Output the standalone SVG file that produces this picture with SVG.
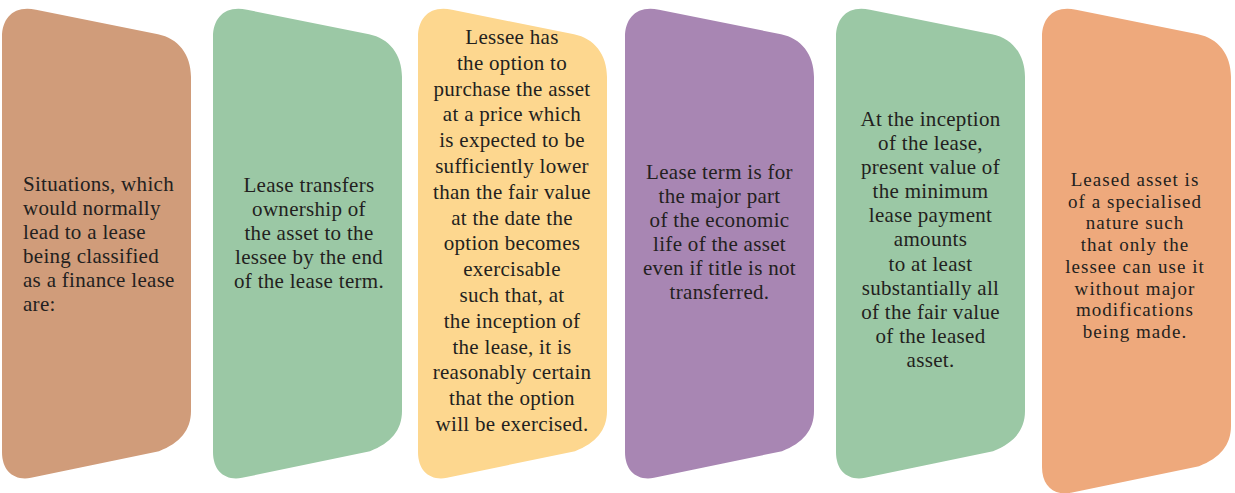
<svg xmlns="http://www.w3.org/2000/svg" width="1235" height="493" viewBox="0 0 1235 493">
<style>
text{font-family:"Liberation Serif","Times New Roman",serif;font-size:21px;letter-spacing:0.3px;fill:#231f20}
.c{text-anchor:middle}
.t text{font-size:19px;letter-spacing:1.05px}
</style>
<rect width="1235" height="493" fill="#fff"/>
<g id="node1">
<path d="M2,37 C2,18 14,5 36,9.8 L158,34.2 C178,38.2 191,54 191,77 L191,411 C191,430 180,443 159,451.2 L31,477.8 C14,481 2,471 2,452 Z" fill="#D09C7A"/>
<text x="23" y="191">Situations, which</text>
<text x="23" y="215">would normally</text>
<text x="23" y="239">lead to a lease</text>
<text x="23" y="263">being classified</text>
<text x="23" y="287">as a finance lease</text>
<text x="23" y="311">are:</text>
</g>
<g id="node2" transform="translate(211,0)">
<path d="M2,37 C2,18 14,5 36,9.8 L158,34.2 C178,38.2 191,54 191,77 L191,411 C191,430 180,443 159,451.2 L31,477.8 C14,481 2,471 2,452 Z" fill="#9BC8A5"/>
<g class="c">
<text x="98" y="192">Lease transfers</text>
<text x="98" y="216">ownership of</text>
<text x="98" y="240">the asset to the</text>
<text x="98" y="264">lessee by the end</text>
<text x="98" y="288">of the lease term.</text>
</g>
</g>
<g id="node3" transform="translate(416,0)">
<path d="M2,37 C2,18 14,5 36,9.8 L158,34.2 C178,38.2 191,54 191,77 L191,411 C191,430 180,443 159,451.2 L31,477.8 C14,481 2,471 2,452 Z" fill="#FDD78F"/>
<g class="c">
<text x="96" y="44">Lessee has</text>
<text x="96" y="69.8">the option to</text>
<text x="96" y="95.6">purchase the asset</text>
<text x="96" y="121.4">at a price which</text>
<text x="96" y="147.2">is expected to be</text>
<text x="96" y="173">sufficiently lower</text>
<text x="96" y="198.8">than the fair value</text>
<text x="96" y="224.6">at the date the</text>
<text x="96" y="250.4">option becomes</text>
<text x="96" y="276.2">exercisable</text>
<text x="96" y="302">such that, at</text>
<text x="96" y="327.8">the inception of</text>
<text x="96" y="353.6">the lease, it is</text>
<text x="96" y="379.4">reasonably certain</text>
<text x="96" y="405.2">that the option</text>
<text x="96" y="431">will be exercised.</text>
</g>
</g>
<g id="node4" transform="translate(623,0)">
<path d="M2,37 C2,18 14,5 36,9.8 L158,34.2 C178,38.2 191,54 191,77 L191,411 C191,430 180,443 159,451.2 L31,477.8 C14,481 2,471 2,452 Z" fill="#A886B3"/>
<g class="c">
<text x="96.5" y="179">Lease term is for</text>
<text x="96.5" y="203">the major part</text>
<text x="96.5" y="227">of the economic</text>
<text x="96.5" y="251">life of the asset</text>
<text x="96.5" y="275">even if title is not</text>
<text x="96.5" y="299">transferred.</text>
</g>
</g>
<g id="node5" transform="translate(834,0)">
<path d="M2,37 C2,18 14,5 36,9.8 L158,34.2 C178,38.2 191,54 191,77 L191,411 C191,430 180,443 159,451.2 L31,477.8 C14,481 2,471 2,452 Z" fill="#9BC8A5"/>
<g class="c">
<text x="96.5" y="126">At the inception</text>
<text x="96.5" y="150">of the lease,</text>
<text x="96.5" y="174">present value of</text>
<text x="96.5" y="198">the minimum</text>
<text x="96.5" y="222">lease payment</text>
<text x="96.5" y="246">amounts</text>
<text x="96.5" y="271">to at least</text>
<text x="96.5" y="295">substantially all</text>
<text x="96.5" y="319">of the fair value</text>
<text x="96.5" y="343">of the leased</text>
<text x="96.5" y="367">asset.</text>
</g>
</g>
<g id="node6" transform="translate(1040,0)">
<path d="M2,37 C2,18 14,5 36,9.8 L158,34.2 C178,38.2 191,54 191,77 L191,426 C191,445 180,458 159,466.2 L31,492.8 C14,496 2,486 2,467 Z" fill="#EEA97C"/>
<g class="c t">
<text x="95" y="186">Leased asset is</text>
<text x="95" y="207.7">of a specialised</text>
<text x="95" y="229.4">nature such</text>
<text x="95" y="251.1">that only the</text>
<text x="95" y="272.8">lessee can use it</text>
<text x="95" y="294.5">without major</text>
<text x="95" y="316.2">modifications</text>
<text x="95" y="337.9">being made.</text>
</g>
</g>
</svg>
